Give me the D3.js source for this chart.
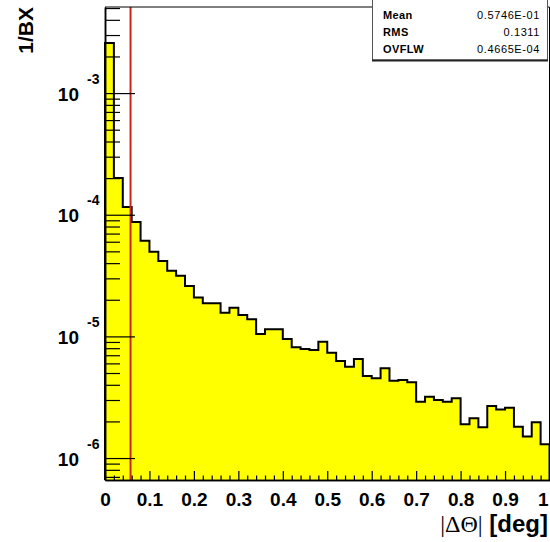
<!DOCTYPE html>
<html><head><meta charset="utf-8">
<script src="https://cdn.jsdelivr.net/npm/d3@7"></script>
<style>body{margin:0;background:#fff}svg{display:block}</style>
</head><body>
<script>
// ---- data ----
const binStart = 0, binWidth = 0.02;
const counts = [2.58e-3, 2.00e-4, 1.156e-4, 8.71e-5, 6.11e-5, 4.96e-5, 4.16e-5, 3.46e-5, 3.15e-5, 2.59e-5,
  2.09e-5, 1.87e-5, 1.87e-5, 1.564e-5, 1.719e-5, 1.497e-5, 1.38e-5, 1.045e-5, 1.143e-5, 1.143e-5,
  9.51e-6, 8.13e-6, 7.87e-6, 7.72e-6, 9.03e-6, 7.34e-6, 6.27e-6, 5.63e-6, 6.51e-6, 4.72e-6,
  4.52e-6, 5.46e-6, 4.32e-6, 4.38e-6, 4.19e-6, 2.90e-6, 3.19e-6, 3.00e-6, 2.90e-6, 3.10e-6,
  1.90e-6, 2.12e-6, 1.79e-6, 2.68e-6, 2.51e-6, 2.59e-6, 1.81e-6, 1.50e-6, 1.97e-6, 1.30e-6];
const xDomain = [0, 1];
const yDomain = [6.6e-7, 5.1e-3];
const xTickValues = [0, 0.1, 0.2, 0.3, 0.4, 0.5, 0.6, 0.7, 0.8, 0.9, 1];
const xTickLabels = ["0", "0.1", "0.2", "0.3", "0.4", "0.5", "0.6", "0.7", "0.8", "0.9", "1"];
const yDecades = [1e-6, 1e-5, 1e-4, 1e-3];
const yExponents = ["-6", "-5", "-4", "-3"];
const meanValue = 0.05746;
const statNames = ["Mean", "RMS", "OVFLW"];
const statValues = ["0.5746E-01", "0.1311", "0.4665E-04"];
const xTitleSym = "|\u0394\u0398|";
const xTitleUnit = "[deg]";
const yTitle = "1/BX";

// ---- layout ----
const W = 550, H = 542;
const L = 105, R = 549.5, T = 7, B = 480;
const sans = "'Liberation Sans', Arial, Helvetica, sans-serif";
const svg = d3.select("body").append("svg").attr("width", W).attr("height", H);

const x = d3.scaleLinear().domain(xDomain).range([L, R]);
const y = d3.scaleLog().domain(yDomain).range([B, T]);

const bins = counts.map((c, i) => ({lo: binStart + i * binWidth, hi: binStart + (i + 1) * binWidth, v: c}));

// histogram fill + outline
const pts = [[x(bins[0].lo), B]];
bins.forEach(b => { pts.push([x(b.lo), y(b.v)]); pts.push([x(b.hi), y(b.v)]); });
pts.push([x(bins[bins.length - 1].hi), B]);
svg.append("path").attr("d", d3.line()(pts) + "Z").attr("fill", "#ffff00").attr("stroke", "none");
svg.append("path").attr("d", d3.line()(pts)).attr("fill", "none").attr("stroke", "#000").attr("stroke-width", 2);

// mean line
svg.append("line").attr("x1", x(meanValue)).attr("x2", x(meanValue)).attr("y1", T).attr("y2", B)
  .attr("stroke", "#cc2418").attr("stroke-width", 2);

// frame
svg.append("line").attr("x1", L).attr("x2", R).attr("y1", T).attr("y2", T).attr("stroke", "#000").attr("stroke-width", 1);
svg.append("line").attr("x1", R).attr("x2", R).attr("y1", T).attr("y2", B).attr("stroke", "#000").attr("stroke-width", 1);

// y axis
const minorY = [];
[1e-7, 1e-6, 1e-5, 1e-4, 1e-3].forEach(d => { for (let k = 2; k <= 9; k++) { const v = d * k; if (v >= yDomain[0] && v <= yDomain[1]) minorY.push(v); } });
const yAxisMinor = svg.append("g").attr("transform", `translate(${L},0)`)
  .call(d3.axisLeft(y).tickValues(minorY).tickSize(-15).tickSizeOuter(0).tickFormat(""));
const yAxis = svg.append("g").attr("transform", `translate(${L},0)`)
  .call(d3.axisLeft(y).tickValues(yDecades).tickSize(-30).tickSizeOuter(0).tickFormat(""));
[yAxis, yAxisMinor].forEach(g => { g.selectAll("line").attr("stroke", "#000").attr("stroke-width", 1.2); g.select(".domain").attr("stroke", "#000").attr("stroke-width", 1.5); });
yAxis.selectAll(".tick").each(function (d) {
  const g = d3.select(this);
  g.append("text").attr("x", 79 - L).attr("y", 7).attr("text-anchor", "end").attr("fill", "#000")
    .attr("font-family", sans).attr("font-weight", "bold").attr("font-size", 19).text("10");
  g.append("text").attr("x", 87 - L).attr("y", -10).attr("text-anchor", "start").attr("fill", "#000")
    .attr("font-family", sans).attr("font-weight", "bold").attr("font-size", 14).text(yExponents[yDecades.indexOf(d)]);
});

// x axis
const minorX = d3.range(0, 51).map(i => i * binWidth).filter(v => Math.abs(v * 10 - Math.round(v * 10)) > 1e-6);
const xAxisMinor = svg.append("g").attr("transform", `translate(0,${B})`)
  .call(d3.axisBottom(x).tickValues(minorX).tickSize(-4.5).tickSizeOuter(0).tickFormat(""));
const xAxis = svg.append("g").attr("transform", `translate(0,${B})`)
  .call(d3.axisBottom(x).tickValues(xTickValues).tickSize(-9).tickSizeOuter(0).tickPadding(12.5)
    .tickFormat((d, i) => xTickLabels[i]));
[xAxis, xAxisMinor].forEach(g => { g.selectAll("line").attr("stroke", "#000").attr("stroke-width", 1.2); g.select(".domain").attr("stroke", "#000").attr("stroke-width", 1.5); });
xAxis.selectAll("text").attr("font-family", sans).attr("font-weight", "bold").attr("font-size", 19).attr("fill", "#000");
xAxis.selectAll("text").filter(d => d === 1).attr("text-anchor", "end").attr("dx", -1.5);

// titles
const xt = svg.append("text").attr("x", 548).attr("y", 532).attr("text-anchor", "end").attr("fill", "#000");
xt.append("tspan").attr("font-family", "'Liberation Serif', 'Times New Roman', serif").attr("font-size", 24).text(xTitleSym);
xt.append("tspan").attr("font-family", sans).attr("font-weight", "bold").attr("font-size", 24).text(" " + xTitleUnit);

svg.append("text").attr("transform", "translate(33,7) rotate(-90)").attr("text-anchor", "end")
  .attr("font-family", sans).attr("font-weight", "bold").attr("font-size", 21).attr("fill", "#000").text(yTitle);

// stats box
const sb = svg.append("g");
sb.append("rect").attr("x", 372.5).attr("y", -1).attr("width", 175).attr("height", 61).attr("fill", "#fff").attr("stroke", "#555").attr("stroke-width", 1);
sb.append("line").attr("x1", 372).attr("x2", 548).attr("y1", 60.5).attr("y2", 60.5).attr("stroke", "#222").attr("stroke-width", 2);
statNames.forEach((n, i) => {
  sb.append("text").attr("x", 383).attr("y", 18.5 + i * 17).attr("font-family", sans).attr("font-weight", "bold")
    .attr("font-size", 11).attr("letter-spacing", 0.4).attr("fill", "#000").text(n);
  sb.append("text").attr("x", 540).attr("y", 18.5 + i * 17).attr("text-anchor", "end").attr("font-family", sans)
    .attr("font-size", 11).attr("letter-spacing", 0.6).attr("fill", "#000").text(statValues[i]);
});
</script>
</body></html>
